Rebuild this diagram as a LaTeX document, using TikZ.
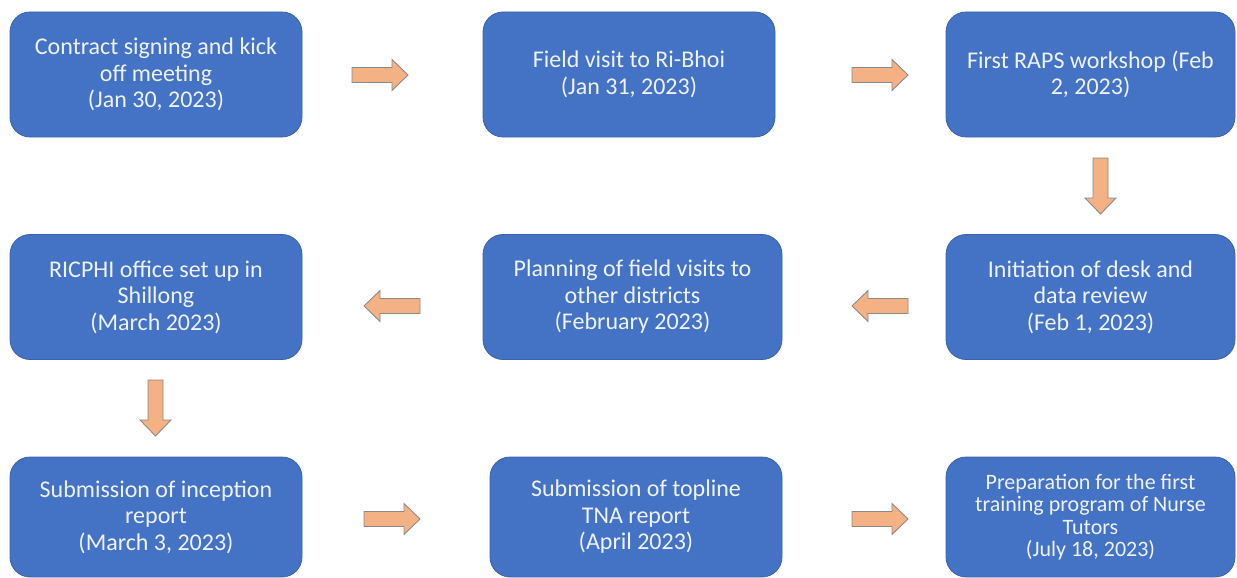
\documentclass[tikz,border=0pt]{standalone}
\usepackage{fontspec}
\setmainfont{Carlito}
\definecolor{boxfill}{HTML}{4472C4}
\definecolor{boxline}{HTML}{3A62A8}
\definecolor{arrfill}{HTML}{F4B183}
\definecolor{arrline}{HTML}{8A8A8A}
\definecolor{txt}{HTML}{EEF2F9}
\tikzset{
  stagebox/.style={rectangle, rounded corners=20pt, fill=boxfill, draw=boxline, line width=0.8pt,
    text=txt, align=center, inner sep=0pt, minimum height=125pt,
    font=\fontsize{24}{26.5}\selectfont},
  blockarrow/.pic={
    \path[fill=arrfill, draw=arrline, line width=0.9pt]
      (-28,-7.5) -- (12,-7.5) -- (12,-15.5) -- (28,0) -- (12,15.5) -- (12,7.5) -- (-28,7.5) -- cycle;
  }
}
\begin{document}
\begin{tikzpicture}[x=1pt,y=-1pt]
\useasboundingbox (0,0) rectangle (1237,578);
% row 1
\node[stagebox, minimum width=292pt] (b1) at (156,74.5) {Contract signing and kick\\off meeting\\(Jan 30, 2023)};
\node[stagebox, minimum width=292pt] (b2) at (629,74.5) {Field visit to Ri-Bhoi\\(Jan 31, 2023)};
\node[stagebox, minimum width=289pt] (b3) at (1090.5,74.5) {First RAPS workshop (Feb\\2, 2023)};
% row 2
\node[stagebox, minimum width=289pt] (b4) at (1090.5,297) {Initiation of desk and\\data review\\(Feb 1, 2023)};
\node[stagebox, minimum width=299pt] (b5) at (632.5,297) {Planning of field visits to\\other districts\\(February 2023)};
\node[stagebox, minimum width=292pt] (b6) at (156,297) {RICPHI office set up in\\Shillong\\(March 2023)};
% row 3
\node[stagebox, minimum width=292pt, minimum height=120pt] (b7) at (156,517) {Submission of inception\\report\\(March 3, 2023)};
\node[stagebox, minimum width=292pt, minimum height=120pt] (b8) at (636,517) {Submission of topline\\TNA report\\(April 2023)};
\node[stagebox, minimum width=289pt, minimum height=120pt, font=\fontsize{22}{22.5}\selectfont] (b9) at (1090.5,517) {Preparation for the first\\training program of Nurse\\Tutors\\(July 18, 2023)};
% block arrows
\pic (a1) at (380,75) {blockarrow};
\pic (a2) at (880,75) {blockarrow};
\pic[rotate=-90] (a3) at (1100.5,186) {blockarrow};
\pic[rotate=180] (a4) at (880,306) {blockarrow};
\pic[rotate=180] (a5) at (392,306) {blockarrow};
\pic[rotate=-90] (a6) at (155.5,408) {blockarrow};
\pic (a7) at (392,519) {blockarrow};
\pic (a8) at (880,519) {blockarrow};
\end{tikzpicture}
\end{document}
